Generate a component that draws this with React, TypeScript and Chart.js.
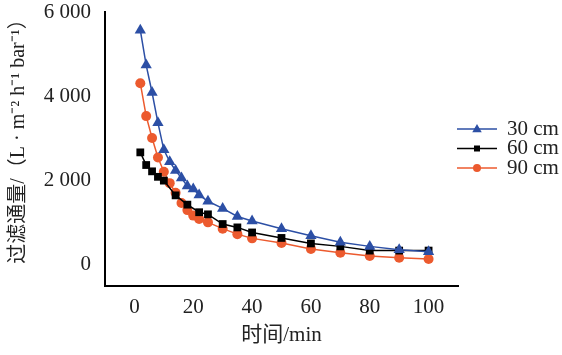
import { useEffect, useRef } from "react";
import { Chart, registerables } from "chart.js";

Chart.register(...registerables);

// time (min)
const times30 = [2, 4, 6, 8, 10, 12, 14, 16, 18, 20, 22, 25, 30, 35, 40, 50, 60, 70, 80, 90, 100];
const flux30 = [5570, 4740, 4090, 3370, 2730, 2450, 2240, 2060, 1870, 1800, 1660, 1510, 1340, 1150, 1040, 860, 690, 540, 440, 360, 310];

const times60 = [2, 4, 6, 8, 10, 14, 18, 22, 25, 30, 35, 40, 50, 60, 70, 80, 90, 100];
const flux60 = [2670, 2370, 2220, 2090, 2000, 1650, 1430, 1250, 1200, 970, 890, 770, 640, 510, 440, 340, 340, 340];

const times90 = [2, 4, 6, 8, 10, 12, 14, 16, 18, 20, 22, 25, 30, 35, 40, 50, 60, 70, 80, 90, 100];
const flux90 = [4310, 3530, 3010, 2550, 2210, 1940, 1710, 1470, 1300, 1170, 1090, 1010, 860, 730, 630, 520, 380, 290, 210, 170, 140];

const seriesLabels = ["30 cm", "60 cm", "90 cm"];
const xTickValues = [0, 10, 20, 30, 40, 50, 60, 70, 80, 90, 100, 110];
const yTickValues = [0, 1000, 2000, 3000, 4000, 5000, 6000];

const BLUE = "#2c4fa5";
const BLACK = "#000000";
const ORANGE = "#ec5a2e";
const SERIF = '"Liberation Serif", "Noto Sans CJK SC", serif';

const toPoints = (xs: number[], ys: number[]) => xs.map((x, i) => ({ x, y: ys[i] }));

function drawMarker(ctx: CanvasRenderingContext2D, style: string, x: number, y: number, r: number) {
  ctx.beginPath();
  if (style === "triangle") {
    ctx.moveTo(x, y - r);
    ctx.lineTo(x + r * 0.95, y + r * 0.65);
    ctx.lineTo(x - r * 0.95, y + r * 0.65);
    ctx.closePath();
  } else if (style === "rect") {
    ctx.rect(x - r * 0.75, y - r * 0.75, r * 1.5, r * 1.5);
  } else {
    ctx.arc(x, y, r, 0, Math.PI * 2);
  }
  ctx.fill();
}

const lineLegend = {
  id: "lineLegend",
  afterDraw(chart: any) {
    const ctx = chart.ctx as CanvasRenderingContext2D;
    const x0 = chart.chartArea.right - 1;
    chart.data.datasets.forEach((ds: any, i: number) => {
      const y = 129 + i * 19.5;
      ctx.save();
      ctx.strokeStyle = ds.borderColor;
      ctx.fillStyle = ds.backgroundColor;
      ctx.lineWidth = 1.5;
      ctx.beginPath();
      ctx.moveTo(x0, y);
      ctx.lineTo(x0 + 40, y);
      ctx.stroke();
      drawMarker(ctx, ds.pointStyle, x0 + 20, y, ds.pointStyle === "triangle" ? 5 : 4);
      ctx.fillStyle = "#222";
      ctx.font = `21px ${SERIF}`;
      ctx.textBaseline = "middle";
      ctx.textAlign = "left";
      ctx.fillText(ds.label, x0 + 50, y);
      ctx.restore();
    });
  },
};

export default function App() {
  const ref = useRef<HTMLCanvasElement | null>(null);

  useEffect(() => {
    if (!ref.current) return;
    const mk = (label: string, xs: number[], ys: number[], color: string, style: string, r: number) => ({
      label,
      data: toPoints(xs, ys),
      borderColor: color,
      backgroundColor: color,
      borderWidth: 1.5,
      pointStyle: style,
      pointRadius: r,
      pointBorderWidth: 0,
      tension: 0,
    });
    const chart = new Chart(ref.current, {
      type: "line",
      data: {
        datasets: [
          mk(seriesLabels[0], times30, flux30, BLUE, "triangle", 6.5),
          mk(seriesLabels[1], times60, flux60, BLACK, "rect", 5.5),
          mk(seriesLabels[2], times90, flux90, ORANGE, "circle", 5),
        ] as any,
      },
      options: {
        animation: false,
        responsive: false,
        maintainAspectRatio: false,
        layout: { padding: { top: 0, right: 104, bottom: 0, left: 0 } },
        plugins: { legend: { display: false }, tooltip: { enabled: false } },
        scales: {
          x: {
            type: "linear",
            min: -10,
            max: 110,
            afterBuildTicks: (s: any) => {
              s.ticks = xTickValues.map((v) => ({ value: v }));
            },
            afterFit: (s: any) => {
              s.height = 69;
            },
            grid: { display: false, drawOnChartArea: false, drawTicks: true, tickLength: 5, tickColor: "#000", tickWidth: 1.5 },
            border: { display: true, color: "#000", width: 2 },
            ticks: {
              autoSkip: false,
              maxRotation: 0,
              padding: 4,
              color: "#222",
              font: { family: SERIF, size: 21 },
              callback: (v: any) => (Number(v) % 20 === 0 && Number(v) <= 100 ? String(v) : ""),
            },
            title: {
              display: true,
              text: "时间/min",
              color: "#222",
              font: { family: SERIF, size: 21 },
              padding: { top: 2, bottom: 7 },
            },
          },
          y: {
            type: "linear",
            min: -500,
            max: 6000,
            afterBuildTicks: (s: any) => {
              s.ticks = yTickValues.map((v) => ({ value: v }));
            },
            afterFit: (s: any) => {
              s.width = 105;
              s.paddingTop = 12;
              s.paddingBottom = 0;
            },
            grid: { display: false, drawOnChartArea: false, drawTicks: true, tickLength: 5, tickColor: "#000", tickWidth: 1.5 },
            border: { display: true, color: "#000", width: 2 },
            ticks: {
              autoSkip: false,
              padding: 9,
              color: "#222",
              font: { family: SERIF, size: 21 },
              callback: (v: any) => {
                const n = Number(v);
                if (n % 2000 !== 0) return "";
                return n === 0 ? "0" : `${Math.floor(n / 1000)} ${String(n % 1000).padStart(3, "0")}`;
              },
            },
            title: {
              display: true,
              text: "\u3000 过滤通量/（L · m⁻² h⁻¹ bar⁻¹）",
              color: "#222",
              font: { family: SERIF, size: 20 },
              padding: { top: 7, bottom: 0 },
            },
          },
        },
      } as any,
      plugins: [lineLegend],
    });
    return () => chart.destroy();
  }, []);

  return (
    <div style={{ position: "fixed", left: 0, top: 0, width: 562, height: 355, background: "#fff" }}>
      <canvas ref={ref} width={562} height={355} style={{ display: "block", width: 562, height: 355 }} />
    </div>
  );
}
